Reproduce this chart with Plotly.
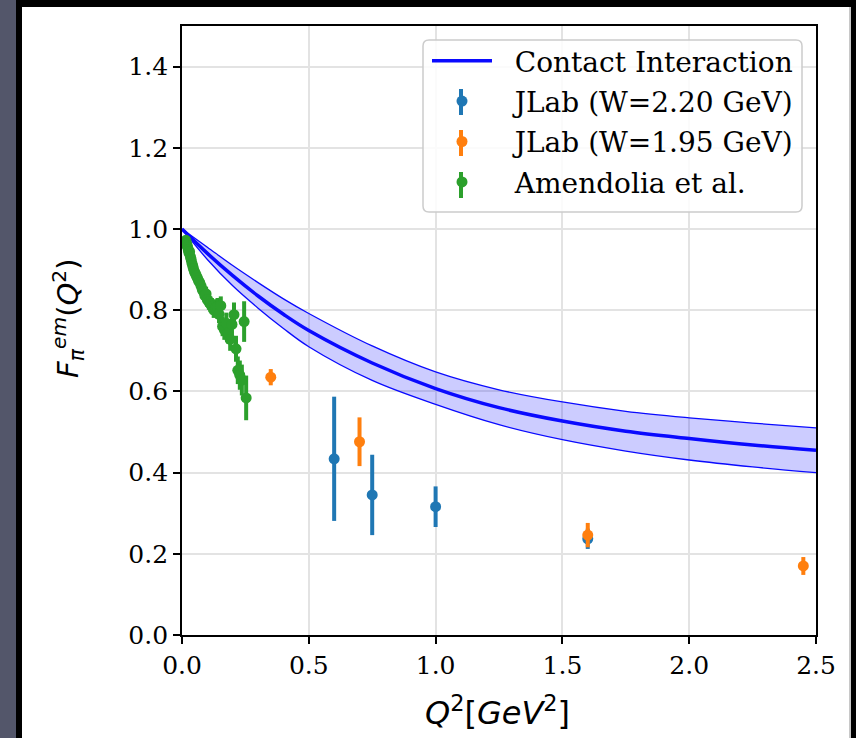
import plotly.graph_objects as go

# ---- Contact Interaction prediction (central curve and uncertainty band) ----
ci_q2 = [0.0, 0.1, 0.2, 0.3, 0.4, 0.5, 0.75, 1.0, 1.25, 1.5, 1.75, 2.0, 2.25, 2.5]
ci_mid = [1.0, 0.94, 0.885, 0.835, 0.79, 0.75, 0.67, 0.607, 0.56, 0.527, 0.502, 0.484, 0.468, 0.455]
ci_hi = [1.0, 0.955, 0.91, 0.868, 0.828, 0.792, 0.712, 0.648, 0.604, 0.574, 0.551, 0.535, 0.522, 0.51]
ci_lo = [1.0, 0.925, 0.86, 0.805, 0.755, 0.71, 0.627, 0.568, 0.518, 0.481, 0.453, 0.431, 0.414, 0.40]

# ---- JLab, W = 2.20 GeV ----
jlab220_q2 = [0.60, 0.75, 1.00, 1.60]
jlab220_f = [0.434, 0.345, 0.316, 0.237]
jlab220_err = [0.153, 0.099, 0.050, 0.025]

# ---- JLab, W = 1.95 GeV ----
jlab195_q2 = [0.35, 0.70, 1.60, 2.45]
jlab195_f = [0.635, 0.476, 0.246, 0.170]
jlab195_err = [0.020, 0.060, 0.030, 0.022]

# ---- Amendolia et al. ----
amd_q2 = [0.015, 0.017, 0.020, 0.022, 0.025, 0.027, 0.030, 0.033, 0.036, 0.039,
          0.042, 0.045, 0.049, 0.053, 0.057, 0.061, 0.065, 0.070, 0.075, 0.080,
          0.085, 0.090, 0.095, 0.100, 0.106, 0.112, 0.118, 0.125, 0.132, 0.140,
          0.146, 0.153, 0.160, 0.167, 0.175, 0.182, 0.190, 0.197, 0.205, 0.213,
          0.220, 0.228, 0.236, 0.245, 0.253]
amd_f = [0.972, 0.966, 0.960, 0.955, 0.948, 0.942, 0.944, 0.932, 0.925, 0.916,
         0.910, 0.903, 0.895, 0.890, 0.884, 0.879, 0.873, 0.868, 0.860, 0.851,
         0.846, 0.836, 0.840, 0.826, 0.820, 0.815, 0.810, 0.801, 0.806, 0.808,
         0.790, 0.811, 0.760, 0.752, 0.768, 0.745, 0.728, 0.765, 0.789, 0.705,
         0.652, 0.640, 0.628, 0.772, 0.584]
amd_err = [0.010, 0.010, 0.010, 0.010, 0.011, 0.011, 0.011, 0.012, 0.012, 0.012,
           0.013, 0.013, 0.013, 0.014, 0.014, 0.014, 0.015, 0.015, 0.016, 0.016,
           0.017, 0.017, 0.018, 0.018, 0.019, 0.019, 0.020, 0.020, 0.021, 0.022,
           0.022, 0.023, 0.024, 0.025, 0.026, 0.027, 0.028, 0.029, 0.030, 0.032,
           0.034, 0.036, 0.038, 0.050, 0.055]

C_BLUE = "#1f77b4"
C_ORANGE = "#ff7f0e"
C_GREEN = "#2ca02c"
C_CI = "#0a0aff"

W, H = 856, 738
L, R, T, B = 182, 816, 26, 635  # plot area in pixels


def px_x(px):
    return (px - L) / (R - L)


def px_y(py):
    return (B - py) / (B - T)


fig = go.Figure()

# uncertainty band
fig.add_trace(go.Scatter(x=ci_q2, y=ci_lo, mode="lines", line=dict(color=C_CI, width=1.3, shape="spline"),
                         showlegend=False, hoverinfo="skip", legendgroup="ci"))
fig.add_trace(go.Scatter(x=ci_q2, y=ci_hi, mode="lines", line=dict(color=C_CI, width=1.3, shape="spline"),
                         fill="tonexty", fillcolor="rgba(0,0,255,0.2)", showlegend=False,
                         hoverinfo="skip", legendgroup="ci"))
fig.add_trace(go.Scatter(x=ci_q2, y=ci_mid, mode="lines", name="\u00a0\u00a0Contact Interaction",
                         legendgroup="ci", line=dict(color=C_CI, width=3.5, shape="spline")))


def data_trace(x, y, e, color, name, group):
    return go.Scatter(x=x, y=y, mode="markers", name="\u00a0\u00a0" + name, legendgroup=group,
                      marker=dict(color=color, size=11, line=dict(width=0)),
                      error_y=dict(type="data", array=e, visible=True, color=color,
                                   thickness=4, width=0))


fig.add_trace(data_trace(jlab220_q2, jlab220_f, jlab220_err, C_BLUE, "JLab (W=2.20 GeV)", "j220"))
fig.add_trace(data_trace(jlab195_q2, jlab195_f, jlab195_err, C_ORANGE, "JLab (W=1.95 GeV)", "j195"))
fig.add_trace(data_trace(amd_q2, amd_f, amd_err, C_GREEN, "Amendolia et al.", "amd"))

tickfont = dict(family="DejaVu Serif", size=25, color="black")
axis_common = dict(showgrid=True, gridcolor="#e3e3e3", gridwidth=1.5, zeroline=False,
                   showline=True, linecolor="black", linewidth=1.8, mirror=True,
                   ticks="outside", ticklen=7, tickwidth=1.5, tickcolor="black",
                   tickfont=tickfont)

fig.update_xaxes(range=[0, 2.5], tickvals=[0, 0.5, 1.0, 1.5, 2.0, 2.5],
                 ticktext=["0.0", "0.5", "1.0", "1.5", "2.0", "2.5"], **axis_common)
fig.update_yaxes(range=[0, 1.5], tickvals=[0, 0.2, 0.4, 0.6, 0.8, 1.0, 1.2, 1.4],
                 ticktext=["0.0", "0.2", "0.4", "0.6", "0.8", "1.0", "1.2", "1.4"], **axis_common)

shapes = []
# legend frame with rounded corners
lx0, lx1, ly0, ly1, rad = 423, 802, 40, 212, 6
path = (f"M {px_x(lx0 + rad)},{px_y(ly0)} L {px_x(lx1 - rad)},{px_y(ly0)} "
        f"Q {px_x(lx1)},{px_y(ly0)} {px_x(lx1)},{px_y(ly0 + rad)} "
        f"L {px_x(lx1)},{px_y(ly1 - rad)} Q {px_x(lx1)},{px_y(ly1)} {px_x(lx1 - rad)},{px_y(ly1)} "
        f"L {px_x(lx0 + rad)},{px_y(ly1)} Q {px_x(lx0)},{px_y(ly1)} {px_x(lx0)},{px_y(ly1 - rad)} "
        f"L {px_x(lx0)},{px_y(ly0 + rad)} Q {px_x(lx0)},{px_y(ly0)} {px_x(lx0 + rad)},{px_y(ly0)} Z")
shapes.append(dict(type="path", xref="paper", yref="paper", path=path,
                   fillcolor="rgba(255,255,255,0.85)", line=dict(color="#cccccc", width=1.5), layer="above"))

# error-bar stems for the legend glyphs of the data series
for row_y, col in [(102, C_BLUE), (143, C_ORANGE), (185, C_GREEN)]:
    shapes.append(dict(type="line", xref="paper", yref="paper",
                       x0=px_x(461), x1=px_x(461), y0=px_y(row_y - 13), y1=px_y(row_y + 13),
                       line=dict(color=col, width=4), layer="above"))


# outer frame around the figure
def rect(x0, y0, x1, y1, color):
    return dict(type="rect", xref="paper", yref="paper", x0=px_x(x0), x1=px_x(x1),
                y0=px_y(y1), y1=px_y(y0), fillcolor=color, line=dict(width=0), layer="above")


shapes.append(rect(0, 0, 16, H, "#53566a"))
shapes.append(rect(16, 0, 22, H, "#000000"))
shapes.append(rect(16, 0, W, 7, "#000000"))
shapes.append(rect(849, 7, 851, H, "#c8c8c8"))
shapes.append(rect(851, 0, W, H, "#000000"))

annotations = [
    dict(text="<i>Q</i><sup>2</sup>[<i>GeV</i><sup>2</sup>]", xref="paper", yref="paper",
         x=px_x(497), y=px_y(711), xanchor="center", yanchor="middle", showarrow=False,
         font=dict(family="DejaVu Sans", size=32, color="black")),
    dict(text="<i>F</i><sub><i>π</i></sub><sup><i>em</i></sup>(<i>Q</i><sup>2</sup>)", xref="paper", yref="paper",
         x=px_x(68), y=px_y(318), xanchor="center", yanchor="middle", showarrow=False, textangle=-90,
         font=dict(family="DejaVu Sans", size=29, color="black")),
]

fig.update_layout(
    width=W, height=H,
    margin=dict(l=L, r=W - R, t=T, b=H - B, pad=0),
    paper_bgcolor="white", plot_bgcolor="white",
    shapes=shapes, annotations=annotations,
    legend=dict(x=px_x(427), y=px_y(36), xanchor="left", yanchor="top",
                bgcolor="rgba(0,0,0,0)", borderwidth=0, itemwidth=60,
                traceorder="grouped",
                font=dict(family="DejaVu Serif", size=28, color="black"),
                tracegroupgap=1),
)

fig.write_html("out.html")
